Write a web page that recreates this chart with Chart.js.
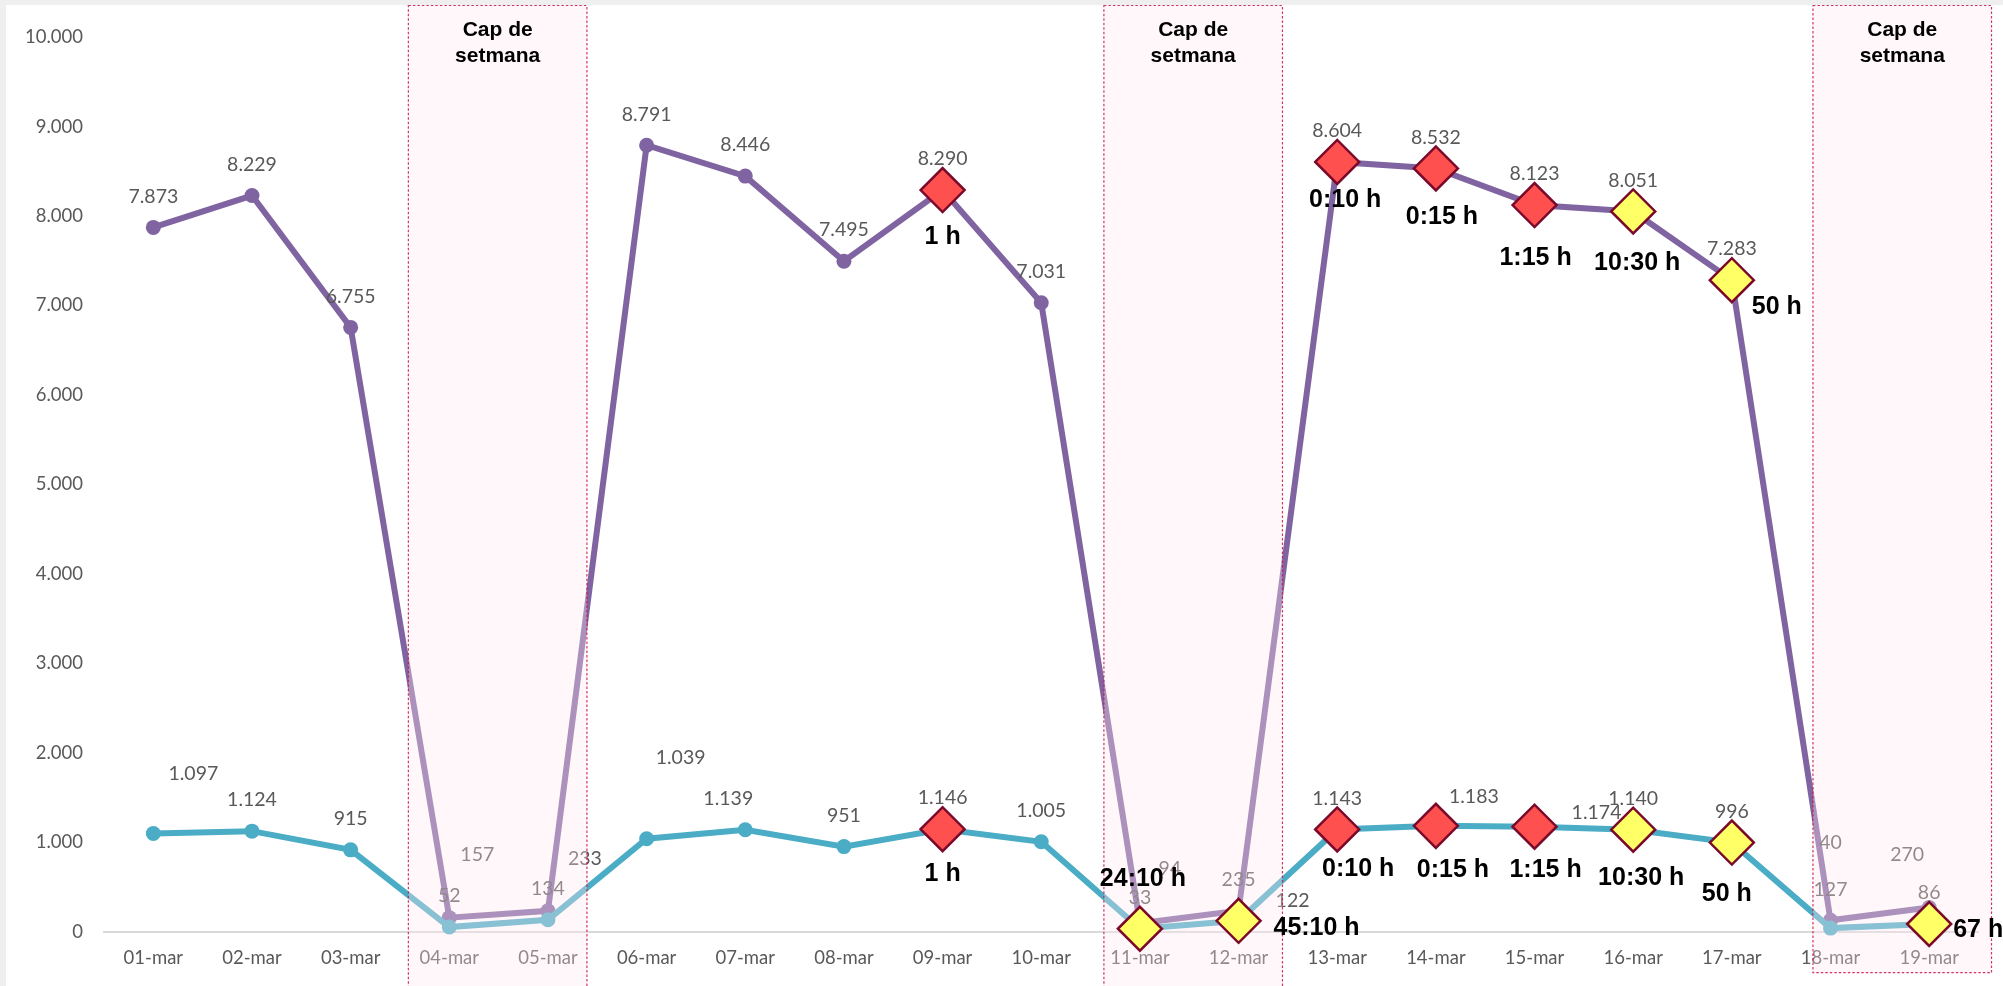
<!DOCTYPE html>
<html>
<head>
<meta charset="utf-8">
<script src="https://cdn.jsdelivr.net/npm/chart.js@4.4.1/dist/chart.umd.min.js"></script>
<style>
  html, body { margin: 0; padding: 0; background: #efefef; }
  #wrap { position: absolute; left: 6px; top: 5px; width: 1997px; height: 981px; background: #fff; overflow: hidden; }
  canvas { display: block; }
</style>
</head>
<body>
<div id="wrap"><canvas id="chart"></canvas></div>
<script>
const dies = ['01-mar', '02-mar', '03-mar', '04-mar', '05-mar', '06-mar', '07-mar', '08-mar', '09-mar', '10-mar',
              '11-mar', '12-mar', '13-mar', '14-mar', '15-mar', '16-mar', '17-mar', '18-mar', '19-mar'];
const totalDia = [7873, 8229, 6755, 157, 233, 8791, 8446, 7495, 8290, 7031, 94, 235, 8604, 8532, 8123, 8051, 7283, 127, 270];
const ambDemora = [1097, 1124, 915, 52, 134, 1039, 1139, 951, 1146, 1005, 33, 122, 1143, 1183, 1174, 1140, 996, 40, 86];
// 0 = sense avís, 1 = groc, 2 = vermell
const nivellAlerta = [0, 0, 0, 0, 0, 0, 0, 0, 2, 0, 1, 1, 2, 2, 2, 1, 1, 0, 1];
const temps = ['', '', '', '', '', '', '', '', '1 h', '', '24:10 h', '45:10 h', '0:10 h', '0:15 h', '1:15 h', '10:30 h', '50 h', '', '67 h'];
const capsDeSetmana = [[3, 4], [10, 11], [17, 18]];
const yTicks = [0, 1000, 2000, 3000, 4000, 5000, 6000, 7000, 8000, 9000, 10000];

const esCapDeSetmana = i => capsDeSetmana.some(c => c.includes(i));
const fmt = v => String(v).replace(/\B(?=(\d{3})+(?!\d))/g, '.');

// desplaçaments manuals de les etiquetes (px)
const labelShift = {
    p3: [28, -32], p4: [37, -21], p10: [30, -24], p18: [-22, -22],
    c0: [40, -29], c5: [34, -50], c6: [-17, 0], c11: [54, 11], c13: [38, 2], c14: [62, 17], c17: [0, -54]
};
const hourShift = {
    p8: [0, 47], p12: [8, 38], p13: [6, 49], p14: [1, 53], p15: [4, 52], p16: [45, 27],
    c8: [0, 45], c10: [3, -50], c11: [78, 7], c12: [21, 40], c13: [17, 44], c14: [11, 43],
    c15: [8, 48], c16: [-5, 52], c18: [49, 6]
};

const marcaTotal = totalDia.map((v, i) => nivellAlerta[i] && !esCapDeSetmana(i) ? v : null);
const marcaDemora = ambDemora.map((v, i) => nivellAlerta[i] ? v : null);
const colorMarca = ctx => nivellAlerta[ctx.dataIndex] === 2 ? '#ff5050' : '#ffff66';

function drawValueLabels(chart) {
    const ctx = chart.ctx;
    ctx.save();
    ctx.font = '19.5px Lato';
    ctx.fillStyle = '#595959';
    ctx.textAlign = 'center';
    ctx.textBaseline = 'middle';
    [[0, 'p'], [1, 'c']].forEach(([di, key]) => {
        const values = chart.data.datasets[di].data;
        chart.getDatasetMeta(di).data.forEach((pt, i) => {
            const s = labelShift[key + i] || [0, 0];
            ctx.fillText(fmt(values[i]), pt.x + s[0], pt.y - 31 + s[1]);
        });
    });
    ctx.restore();
}

function bandRects(chart, opts) {
    const x = chart.scales.x;
    return capsDeSetmana.map((c, k) => ({
        l: x.getPixelForValue(c[0] - opts.pad[k][0]),
        r: x.getPixelForValue(c[1] + opts.pad[k][1]),
        t: 0.5,
        b: chart.height - opts.bottomInset[k]
    }));
}

const capPlugin = {
    id: 'capsDeSetmana',
    afterDatasetDraw(chart, args, opts) {
        if (args.index !== 1) return;
        drawValueLabels(chart);
        const ctx = chart.ctx;
        ctx.save();
        ctx.fillStyle = opts.veil;
        bandRects(chart, opts).forEach(b => ctx.fillRect(b.l, b.t, b.r - b.l, b.b - b.t));
        ctx.restore();
    },
    afterDatasetsDraw(chart, args, opts) {
        const ctx = chart.ctx;
        ctx.save();
        // vores i títols
        ctx.strokeStyle = opts.border;
        ctx.lineWidth = 1.2;
        ctx.setLineDash([2.5, 2]);
        ctx.font = 'bold 21px "Liberation Sans"';
        ctx.fillStyle = '#000';
        ctx.textAlign = 'center';
        ctx.textBaseline = 'alphabetic';
        bandRects(chart, opts).forEach(b => {
            ctx.strokeRect(b.l, b.t, b.r - b.l, b.b - b.t);
            const cx = (b.l + b.r) / 2;
            ctx.fillText('Cap de', cx, 31);
            ctx.fillText('setmana', cx, 57);
        });
        ctx.setLineDash([]);
        // temps d'espera
        ctx.font = 'bold 25px "Liberation Sans"';
        ctx.textBaseline = 'middle';
        [[2, 'p'], [3, 'c']].forEach(([di, key]) => {
            const values = chart.data.datasets[di].data;
            chart.getDatasetMeta(di).data.forEach((pt, i) => {
                if (values[i] === null) return;
                const s = hourShift[key + i] || [0, 47];
                ctx.fillText(temps[i], pt.x + s[0], pt.y + s[1]);
            });
        });
        ctx.restore();
    }
};

new Chart(document.getElementById('chart'), {
    type: 'line',
    data: {
        labels: dies,
        datasets: [{
            label: 'Total',
            data: totalDia,
            borderColor: '#8064a2',
            backgroundColor: '#8064a2',
            borderWidth: 6,
            pointRadius: 7.5,
            pointBorderWidth: 0,
            tension: 0,
            clip: false,
            order: 4
        }, {
            label: 'Amb demora',
            data: ambDemora,
            borderColor: '#4bacc6',
            backgroundColor: '#4bacc6',
            borderWidth: 6,
            pointRadius: 7.5,
            pointBorderWidth: 0,
            tension: 0,
            clip: false,
            order: 3
        }, {
            label: 'Avís total',
            data: marcaTotal,
            showLine: false,
            pointStyle: 'rectRot',
            pointRadius: 22,
            pointBorderWidth: 2.5,
            pointBorderColor: '#7b0a2a',
            pointBackgroundColor: colorMarca,
            clip: false,
            order: 2
        }, {
            label: 'Avís demora',
            data: marcaDemora,
            showLine: false,
            pointStyle: 'rectRot',
            pointRadius: 22,
            pointBorderWidth: 2.5,
            pointBorderColor: '#7b0a2a',
            pointBackgroundColor: colorMarca,
            clip: false,
            order: 1
        }]
    },
    options: {
        responsive: true,
        maintainAspectRatio: false,
        animation: false,
        layout: { padding: { top: 29.5, right: 23, left: 0, bottom: 0 } },
        plugins: {
            legend: { display: false },
            tooltip: { enabled: false },
            capsDeSetmana: {
                veil: 'rgba(255, 231, 240, 0.34)',
                border: 'rgba(200, 20, 70, 0.85)',
                pad: [[0.415, 0.395], [0.365, 0.445], [0.178, 0.632]],
                bottomInset: [-5, -5, 13.3]
            }
        },
        scales: {
            x: {
                offset: true,
                grid: { display: false, drawTicks: false, offset: true },
                border: { display: true, color: '#d9d9d9', width: 2 },
                ticks: {
                    color: '#595959',
                    font: { family: 'Lato', size: 18.5 },
                    padding: 15,
                    maxRotation: 0,
                    autoSkip: false
                },
                afterFit: s => { s.height = 54.3; }
            },
            y: {
                min: 0,
                max: 10000,
                grid: { display: false, drawTicks: false },
                border: { display: false },
                afterBuildTicks: s => { s.ticks = yTicks.map(v => ({ value: v })); },
                ticks: {
                    color: '#595959',
                    font: { family: 'Lato', size: 18.5 },
                    padding: 21,
                    callback: v => fmt(v)
                },
                afterFit: s => { s.width = 98; }
            }
        }
    },
    plugins: [capPlugin]
});
</script>
</body>
</html>
